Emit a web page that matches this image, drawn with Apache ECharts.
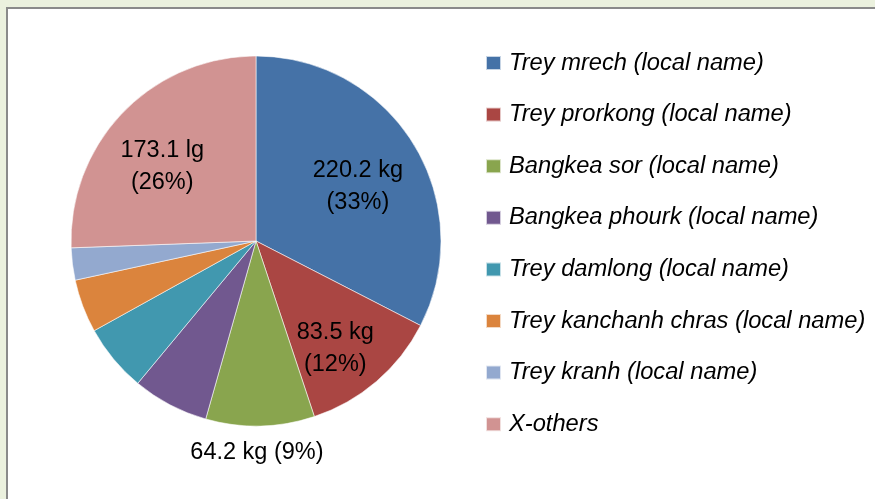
<!DOCTYPE html>
<html>
<head>
<meta charset="utf-8">
<script src="https://cdn.jsdelivr.net/npm/echarts@6/dist/echarts.min.js"></script>
<style>
  html, body { margin: 0; padding: 0; background: #ebf1de; }
  #chart { width: 875px; height: 499px; }
</style>
</head>
<body>
<div id="chart"></div>
<script>
const categories = [
  'Trey mrech (local name)',
  'Trey prorkong (local name)',
  'Bangkea sor (local name)',
  'Bangkea phourk (local name)',
  'Trey damlong (local name)',
  'Trey kanchanh chras (local name)',
  'Trey kranh (local name)',
  'X-others'
];
const values = [220.2, 83.5, 64.2, 45.0, 40.0, 31.5, 19.0, 173.1];
const units = ['kg', 'kg', 'kg', 'kg', 'kg', 'kg', 'kg', 'lg'];
const showLabel = [true, true, true, false, false, false, false, true];
const labelSep = ['\n', '\n', ' ', '\n', '\n', '\n', '\n', '\n'];
// label placement tweaks (radial factor + small nudge)
const labelRadial = [1.25, 1.42, 2.27, 1, 1, 1, 1, 1.32];
const labelNudge = [[0, 8], [-9, 5], [-4, -5], [0, 0], [0, 0], [0, 0], [0, 0], [-3, 13]];
const colors = ['#4572A7', '#AA4643', '#89A54E', '#71588F', '#4198AF', '#DB843D', '#93A9CF', '#D19392'];

const CX = 256, CY = 241, R = 185;

const chart = echarts.init(document.getElementById('chart'));
chart.setOption({
  animation: false,
  backgroundColor: '#ebf1de',
  color: colors,
  graphic: [{
    type: 'rect',
    shape: { x: 7, y: 8, width: 900, height: 600 },
    style: { fill: '#ffffff', stroke: '#8a8a8a', lineWidth: 2 },
    silent: true,
    z: -10
  }],
  legend: {
    orient: 'vertical',
    left: 485,
    top: 51,
    padding: 0,
    itemWidth: 15,
    itemHeight: 14,
    itemGap: 27.6,
    icon: 'rect',
    textStyle: {
      fontFamily: 'Liberation Sans',
      fontStyle: 'italic',
      fontSize: 23.7,
      lineHeight: 24,
      color: '#000000',
      padding: [0, 0, 0, 3]
    },
    data: categories
  },
  series: [{
    type: 'pie',
    center: [CX, CY],
    radius: [0, R],
    startAngle: 90,
    clockwise: true,
    avoidLabelOverlap: false,
    itemStyle: { borderColor: 'rgba(255,255,255,0.7)', borderWidth: 0.8 },
    emphasis: { disabled: true },
    label: {
      position: 'inside',
      fontFamily: 'Liberation Sans',
      fontSize: 23.5,
      lineHeight: 32,
      color: '#000000',
      align: 'center',
      formatter: function (p) {
        const i = p.dataIndex;
        return p.value.toFixed(1) + ' ' + units[i] + labelSep[i] + '(' + Math.round(p.percent) + '%)';
      }
    },
    labelLine: { show: false },
    labelLayout: function (params) {
      const i = params.dataIndex;
      const k = labelRadial[i];
      const r = params.labelRect;
      const cx = r.x + r.width / 2;
      const cy = r.y + r.height / 2;
      return { dx: (cx - CX) * (k - 1) + labelNudge[i][0], dy: (cy - CY) * (k - 1) + labelNudge[i][1] };
    },
    data: categories.map(function (name, i) {
      return { name: name, value: values[i], label: { show: showLabel[i] } };
    })
  }]
});
</script>
</body>
</html>
